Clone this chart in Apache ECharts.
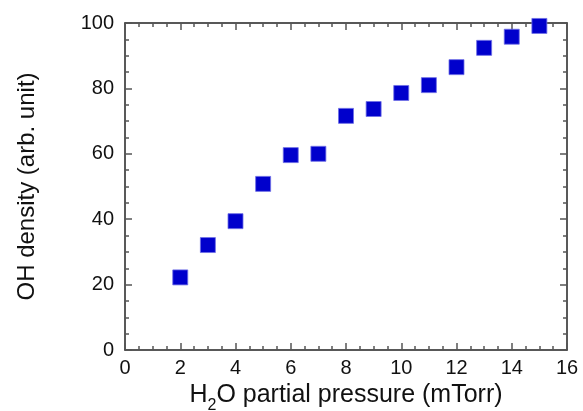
<!DOCTYPE html>
<html>
<head>
<meta charset="utf-8">
<script src="https://cdn.jsdelivr.net/npm/echarts@6/dist/echarts.min.js"></script>
<style>
  html, body { margin: 0; padding: 0; background: #fff; }
  #chart { width: 583px; height: 411px; }
</style>
</head>
<body>
<div id="chart"></div>
<script>
const pressure = [2, 3, 4, 5, 6, 7, 8, 9, 10, 11, 12, 13, 14, 15];
const ohDensity = [22.2, 32.1, 39.4, 50.8, 59.6, 60.0, 71.6, 73.7, 78.6, 81.0, 86.5, 92.4, 95.8, 99.1];

const chart = echarts.init(document.getElementById('chart'));

const font = 'Liberation Sans, Arial, sans-serif';
const axisColor = '#222';

function frameAxis(extra) {
  return Object.assign({
    axisLine: { show: true, onZero: false, lineStyle: { color: axisColor, width: 1.5 } },
    axisTick: { show: true, inside: true, length: 7, lineStyle: { color: '#555', width: 1.5 } },
    minorTick: { show: true, splitNumber: 4, length: 4, lineStyle: { color: '#555', width: 1.5 } },
    splitLine: { show: false },
  }, extra);
}

const option = {
  animation: false,
  grid: { left: 125, right: 16, top: 23, bottom: 61, outerBoundsMode: 'none' },
  xAxis: [
    frameAxis({
      type: 'value', min: 0, max: 16, interval: 2, position: 'bottom',
      axisLabel: { color: '#111', fontSize: 20, fontFamily: font, margin: 8 },
      name: '{n|H}{sub|2}{n|O partial pressure (mTorr)}',
      nameLocation: 'middle',
      nameGap: 26,
      nameTextStyle: {
        rich: {
          n: { fontSize: 25, fontFamily: font, color: '#111' },
          sub: { fontSize: 16, fontFamily: font, color: '#111', verticalAlign: 'bottom', padding: [20, 0, 0, 0] }
        }
      }
    }),
    frameAxis({
      type: 'value', min: 0, max: 16, interval: 2, position: 'top',
      axisLabel: { show: false }
    })
  ],
  yAxis: [
    frameAxis({
      type: 'value', min: 0, max: 100, interval: 20, position: 'left',
      axisLabel: { color: '#111', fontSize: 20, fontFamily: font, margin: 11 },
      name: 'OH density (arb. unit)',
      nameLocation: 'middle',
      nameGap: 86,
      nameTextStyle: { color: '#111', fontSize: 24, fontFamily: font }
    }),
    frameAxis({
      type: 'value', min: 0, max: 100, interval: 20, position: 'right',
      axisLabel: { show: false }
    })
  ],
  series: [{
    type: 'scatter',
    symbol: 'rect',
    symbolSize: 15,
    itemStyle: { color: '#0000cc', borderColor: '#6f6fe6', borderWidth: 0.8, opacity: 1 },
    data: pressure.map((p, i) => [p, ohDensity[i]])
  }]
};

chart.setOption(option);
</script>
</body>
</html>
